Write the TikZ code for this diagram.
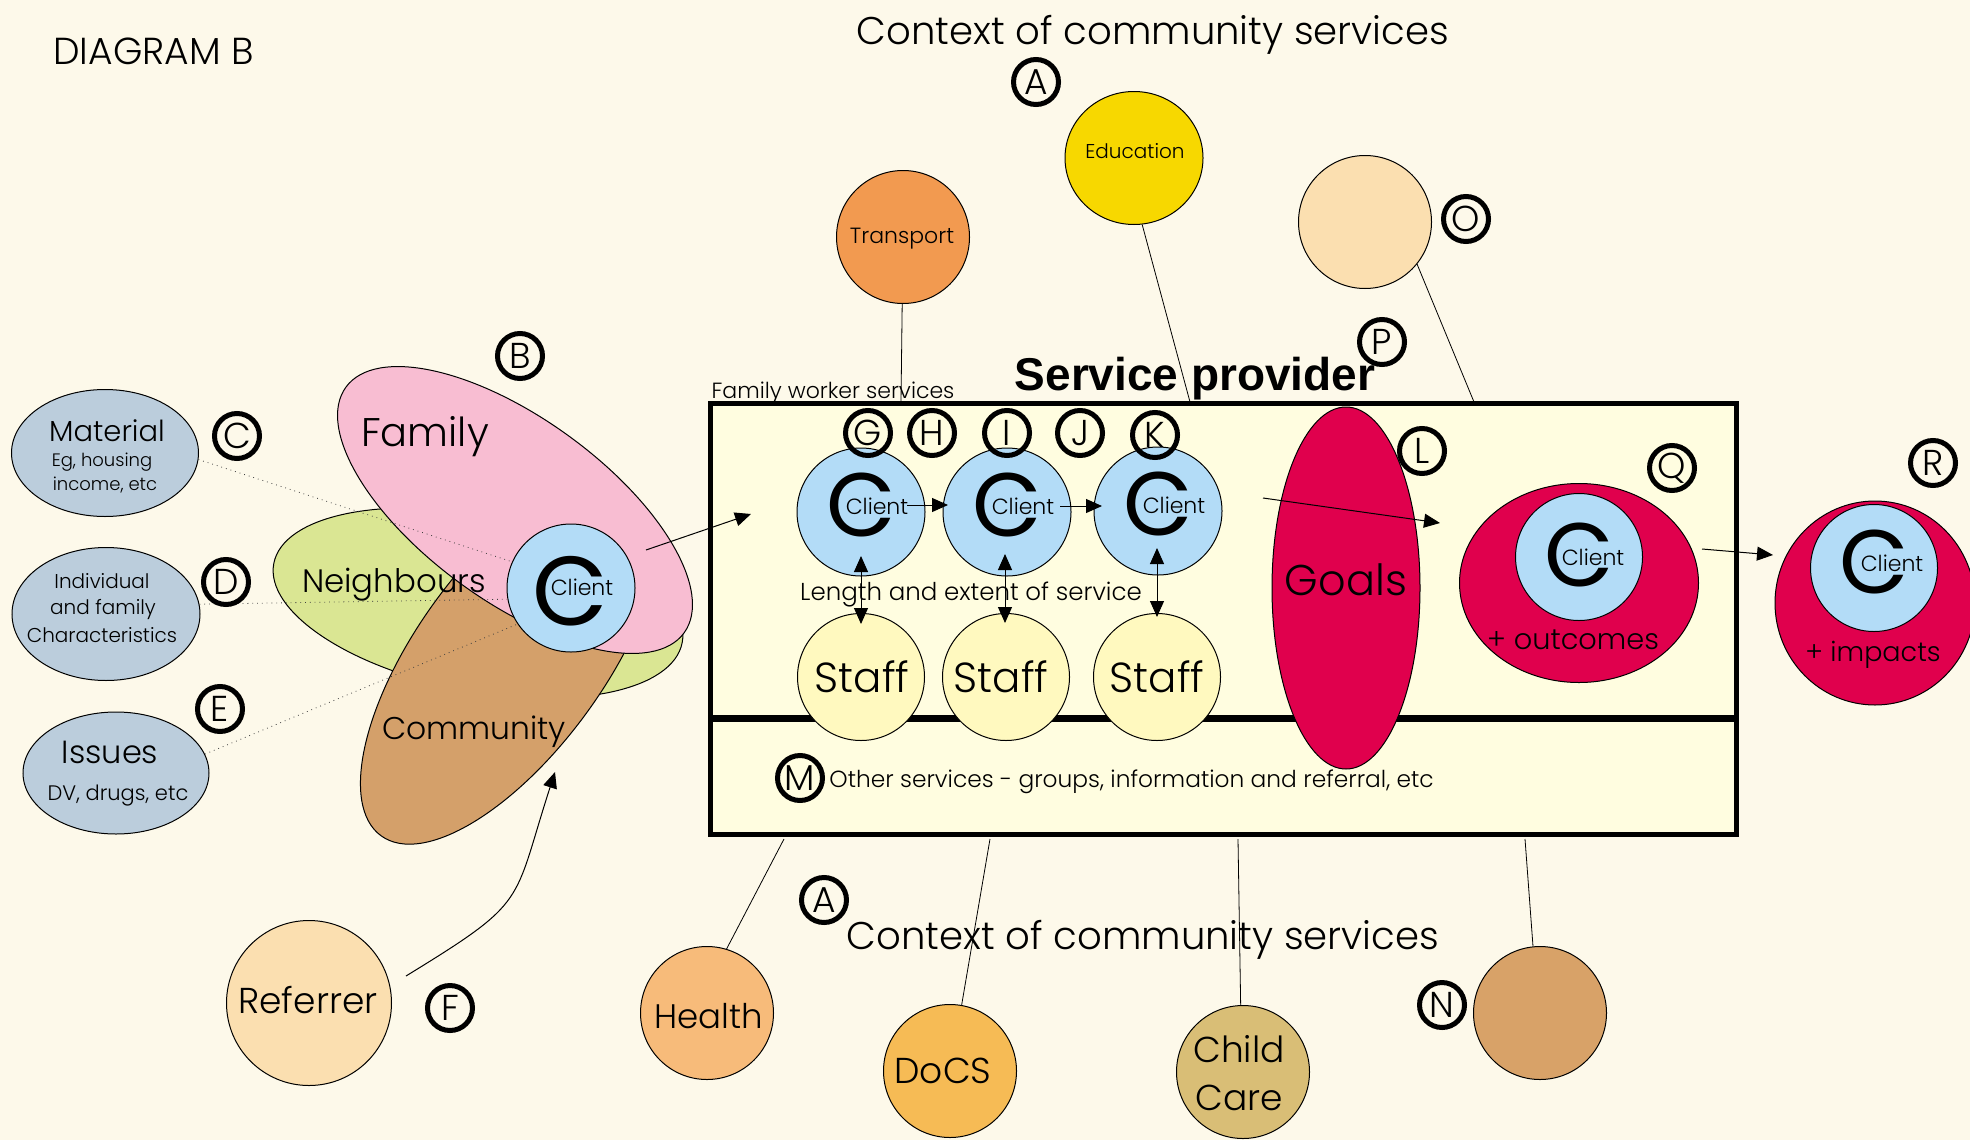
\documentclass[tikz,border=0pt]{standalone}
\usepackage{fontspec}
\setmainfont{Poppins Light}
\newfontfamily\headfont{Liberation Sans}
\newfontfamily\markfont{Poppins}
\usetikzlibrary{arrows.meta}
\usetikzlibrary{shapes.geometric}
\definecolor{pagecol}{HTML}{FDF9EA}
\definecolor{boxcol}{HTML}{FFFDE0}
\definecolor{clientcol}{HTML}{B3DCF7}
\definecolor{staffcol}{HTML}{FFF9BF}
\definecolor{goalcol}{HTML}{E0004D}
\definecolor{greycol}{HTML}{BBCDDC}
\definecolor{familycol}{HTML}{F8BDD2}
\definecolor{neighcol}{HTML}{DAE693}
\definecolor{commcol}{HTML}{D4A06A}
\definecolor{transcol}{HTML}{F29A50}
\definecolor{educol}{HTML}{F7D800}
\definecolor{peachcol}{HTML}{FBDFB0}
\definecolor{healthcol}{HTML}{F7BB7A}
\definecolor{docscol}{HTML}{F6BB55}
\definecolor{childcol}{HTML}{D9BE76}
\definecolor{nservcol}{HTML}{D8A268}
\newcommand{\fsz}[1]{\fontsize{#1}{#1}\selectfont}
\tikzset{
  blob/.style={ellipse,draw,line width=0.5pt,inner sep=0pt},
  disc/.style={circle,draw,line width=0.5pt,inner sep=0pt,minimum size=66.5pt},
  letter/.style={circle,draw,line width=2.5pt,inner sep=0pt,minimum size=22.5pt,font=\fsz{18}},
  word/.style={inner sep=0pt,text=black},
  bigc/.style={word,font=\markfont\fsz{45}},
  provbox/.style={rectangle,draw,line width=2.5pt,fill=boxcol,inner sep=0pt},
  arr/.style={-{Triangle[length=8pt,width=7pt]},line width=0.5pt},
  dblarr/.style={{Triangle[length=8pt,width=7pt]}-{Triangle[length=8pt,width=7pt]},line width=0.5pt},
  thinline/.style={line width=0.4pt},
  dots/.style={dotted,line width=0.4pt,black!75}
}
\begin{document}
\begin{tikzpicture}[x=0.5pt,y=-0.5pt]
    \clip (0,0) rectangle (1970,1140);
    \fill[pagecol] (0,0) rectangle (1970,1140);
    % service provider box
    \node[provbox,minimum width=513pt,minimum height=157.25pt] (upper) at (1223,560.25) {};
    \node[provbox,minimum width=513pt,minimum height=57.75pt] (lower) at (1223,777) {};
    % overlapping ellipses on the left
    \node[blob,fill=neighcol,minimum width=208pt,minimum height=88pt,rotate=-11] (neighbours) at (478,603) {};
    \begin{scope}
      \clip (0,555) rectangle (1970,1140);
      \node[blob,fill=commcol,minimum width=221pt,minimum height=94pt,rotate=54] (community) at (511,657) {};
    \end{scope}
    \node[blob,fill=familycol,minimum width=209pt,minimum height=91.5pt,rotate=-36] (family) at (515,510) {};
    \node[disc,fill=clientcol,minimum size=64pt] (client) at (571,588) {};
    \node[bigc,font=\markfont\fsz{49}] (clientc) at (570,591) {C};
    \node[word,font=\fsz{11}] (clienttx) at (582,587) {Client};
    \node[word,font=\fsz{20}] (familytx) at (425,437) {Family};
    \node[word,font=\fsz{16.2}] (neightx) at (394,585) {Neighbours};
    \node[word,font=\fsz{15.7}] (commtx) at (474,732) {Community};
    % grey ellipses
    \node[blob,fill=greycol,minimum width=93.5pt,minimum height=63.5pt] (material) at (105,453) {};
    \node[blob,fill=greycol,minimum width=94pt,minimum height=66.5pt] (individual) at (106,614) {};
    \node[blob,fill=greycol,minimum width=93pt,minimum height=61pt] (issues) at (116,773) {};
    \node[word,font=\fsz{14.5}] (mattx) at (107,431) {Material};
    \node[word,font=\fsz{9}] (mattxa) at (102,462) {Eg, housing};
    \node[word,font=\fsz{9}] (mattxb) at (105,485) {income, etc};
    \node[word,font=\fsz{10}] (indtx) at (102,581) {Individual};
    \node[word,font=\fsz{10}] (indtxa) at (103,609) {and family};
    \node[word,font=\fsz{10}] (indtxb) at (102,635) {Characteristics};
    \node[word,font=\fsz{16}] (isstx) at (110,752) {Issues};
    \node[word,font=\fsz{10.5}] (isstxa) at (118,796) {DV, drugs, etc};
    \draw[dots] (material.-4) -- (client.156);
    \draw[dots] (individual.6) -- (client.190);
    \draw[dots] (issues.12) -- (client.214);
    % clients and staff
    \foreach \nm/\x/\y in {cla/861/512,clb/1007/512,clc/1158/511}
    {
      \node[disc,fill=clientcol,minimum size=64pt] (\nm) at (\x,\y) {};
      \node[bigc] (\nm c) at (\x,{\y-7}) {C};
      \node[word,font=\fsz{11}] (\nm t) at ({\x+16},{\y-6}) {Client};
    }
    \foreach \nm/\x/\y/\tx in {sta/861/677/862,stb/1006/677/1001,stc/1157/677/1157}
    {
      \node[disc,fill=staffcol,minimum size=63.5pt] (\nm) at (\x,\y) {};
      \node[word,font=\fsz{21}] (\nm t) at (\tx,\y) {Staff};
    }
    % goals and results
    \node[blob,fill=goalcol,minimum width=74pt,minimum height=181pt] (goals) at (1346,588) {};
    \node[word,font=\fsz{21.5}] (goalstx) at (1346,580) {Goals};
    \node[blob,fill=goalcol,minimum width=119.5pt,minimum height=99.5pt] (outcome) at (1579,583) {};
    \node[disc,fill=clientcol,minimum size=63.5pt] (clq) at (1579,557) {};
    \node[bigc] (clqc) at (1579,555) {C};
    \node[word,font=\fsz{11}] (clqt) at (1593,557) {Client};
    \node[word,font=\fsz{14.4}] (outtx) at (1573,640) {+ outcomes};
    \node[blob,fill=goalcol,minimum width=100pt,minimum height=102pt] (impact) at (1875,603) {};
    \node[disc,fill=clientcol,minimum size=63.5pt] (clr) at (1874,568) {};
    \node[bigc] (clrc) at (1874,562) {C};
    \node[word,font=\fsz{11}] (clrt) at (1892,563) {Client};
    \node[word,font=\fsz{13.5}] (imptx) at (1873,655) {+ impacts};
    % surrounding services
    \node[disc,fill=transcol] (transport) at (903,237) {};
    \node[word,font=\fsz{11}] (transtx) at (902,239) {Transport};
    \node[blob,fill=educol,minimum width=69pt,minimum height=66.5pt] (education) at (1134,158) {};
    \node[word,font=\fsz{10}] (edutx) at (1135,151) {Education};
    \node[disc,fill=peachcol] (peach) at (1365,222) {};
    \node[disc,fill=peachcol,minimum size=82.5pt] (referrer) at (309,1003) {};
    \node[word,font=\fsz{18}] (reftx) at (308,1000) {Referrer};
    \node[disc,fill=healthcol] (health) at (707,1013) {};
    \node[word,font=\fsz{17}] (healthtx) at (709,1016) {Health};
    \node[disc,fill=docscol] (docs) at (950,1071) {};
    \node[word,font=\fsz{18}] (docstx) at (943,1071) {DoCS};
    \node[disc,fill=childcol] (childcare) at (1243,1072) {};
    \node[word,align=center,font=\fontsize{18}{24}\selectfont] (childtx) at (1239,1073) {Child\\Care};
    \node[disc,fill=nservcol] (nserv) at (1540,1013) {};
    % free ends
    \coordinate (toptr) at (901,402);
    \coordinate (topedu) at (1190,402);
    \coordinate (toppe) at (1474,402);
    \coordinate (bothe) at (784,839);
    \coordinate (botdo) at (990,839);
    \coordinate (botch) at (1238,839);
    \coordinate (botns) at (1525,839);
    \draw[thinline] (transport) -- (toptr);
    \draw[thinline] (education.-83) -- (topedu);
    \draw[thinline] (peach.-39) -- (toppe);
    \draw[thinline] (health.73) -- (bothe);
    \draw[thinline] (docs.80) -- (botdo);
    \draw[thinline] (childcare.92) -- (botch);
    \draw[thinline] (nserv.96) -- (botns);
    % arrows
    \coordinate (fama) at (646,550);
    \coordinate (famb) at (751,514);
    \draw[arr] (fama) -- (famb);
    \coordinate (refa) at (406,976);
    \coordinate (refb) at (555,772);
    \draw[arr] (refa) .. controls (530,900) and (512,905) .. (refb);
    \coordinate (cab) at (948,505);
    \coordinate (cbc) at (1102,506);
    \coordinate (caa) at (907,505);
    \coordinate (cba) at (1060,506);
    \draw[arr] (caa) -- (cab);
    \draw[arr] (cba) -- (cbc);
    \foreach \nm/\x/\ya/\yb in {dba/861/556/624,dbb/1005/554/623,dbc/1157/548/617}
    {
      \coordinate (\nm u) at (\x,\ya);
      \coordinate (\nm d) at (\x,\yb);
      \draw[dblarr] (\nm u) -- (\nm d);
    }
    \coordinate (gola) at (1263,498);
    \coordinate (golb) at (1440,523);
    \draw[arr] (gola) -- (golb);
    \coordinate (resa) at (1702,549);
    \coordinate (resb) at (1773,555);
    \draw[arr] (resa) -- (resb);
    % titles and notes
    \node[word,anchor=west,font=\fsz{18.8}] (diagtx) at (53,51) {DIAGRAM B};
    \node[word,font=\fsz{19.3}] (ctxtop) at (1153,35) {Context of community services};
    \node[word,font=\fsz{19.3}] (ctxbot) at (1143,940) {Context of community services};
    \node[word,font=\headfont\bfseries\fsz{23}] (provtx) at (1195,379) {Service provider};
    \node[word,font=\fsz{11}] (worktx) at (833,393) {Family worker services};
    \node[word,font=\fsz{12.25}] (lengthtx) at (971,595) {Length and extent of service};
    \node[word,anchor=west,font=\fsz{11.65}] (othertx) at (829,782) {Other services - groups, information and referral, etc};
    % letter marks
    \foreach \nm/\lt/\x/\y in {la/A/1036/82,lb/O/1466/219,lc/P/1382/342,ld/B/520/356,le/C/237/436,lf/D/226/582,lg/E/220/709,lh/G/868/433,li/H/932/433,lj/I/1007/433,lk/J/1080/433,ll/K/1155/435,lm/L/1422/451,ln/Q/1672/468,lo/R/1933/463,lp/M/800/778,lq/A/824/900,lr/F/450/1008,ls/N/1442/1005}
    {
      \node[letter] (\nm) at (\x,\y) {\lt};
    }
\end{tikzpicture}
\end{document}
